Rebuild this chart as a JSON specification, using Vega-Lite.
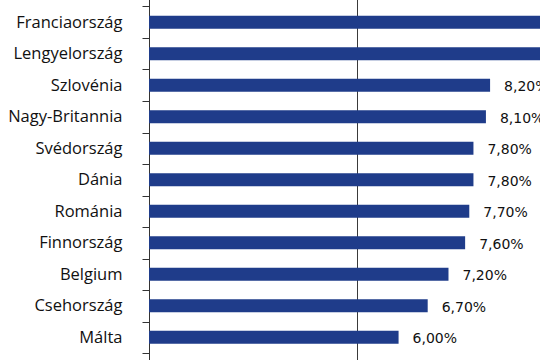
{
  "$schema": "https://vega.github.io/schema/vega-lite/v6.json",
  "width": 391,
  "height": 409.5,
  "autosize": {"type": "none"},
  "padding": {"left": 149, "top": -25, "right": 0, "bottom": -24.5},
  "config": {
    "locale": {"number": {"decimal": ",", "thousands": " ", "grouping": [3], "currency": ["", ""]}},
    "view": {"stroke": null},
    "font": "Open Sans"
  },
  "data": {
    "values": [
      {"orszag": "Németország", "rata": 0.105},
      {"orszag": "Franciaország", "rata": 0.1},
      {"orszag": "Lengyelország", "rata": 0.098},
      {"orszag": "Szlovénia", "rata": 0.082},
      {"orszag": "Nagy-Britannia", "rata": 0.081},
      {"orszag": "Svédország", "rata": 0.078},
      {"orszag": "Dánia", "rata": 0.078},
      {"orszag": "Románia", "rata": 0.077},
      {"orszag": "Finnország", "rata": 0.076},
      {"orszag": "Belgium", "rata": 0.072},
      {"orszag": "Csehország", "rata": 0.067},
      {"orszag": "Málta", "rata": 0.06},
      {"orszag": "Ausztria", "rata": 0.055}
    ]
  },
  "encoding": {
    "y": {
      "field": "orszag",
      "type": "nominal",
      "sort": null,
      "scale": {"paddingInner": 0.59, "paddingOuter": 0.295},
      "axis": {
        "title": null,
        "bandPosition": 0.5,
        "tickOffset": -15.75,
        "labelOffset": 15.75,
        "tickSize": 7,
        "tickColor": "#333333",
        "domainColor": "#333333",
        "labelPadding": 20,
        "labelFont": "Open Sans",
        "labelFontSize": 16.5,
        "labelColor": "#111111",
        "labelLimit": 300
      }
    },
    "x": {
      "field": "rata",
      "type": "quantitative",
      "scale": {"domain": [0, 0.094], "nice": false, "zero": true},
      "axis": {
        "title": null,
        "values": [0.05],
        "grid": true,
        "gridColor": "#3a3a3a",
        "gridOpacity": 1,
        "domain": false,
        "ticks": false,
        "labels": false
      }
    }
  },
  "layer": [
    {"mark": {"type": "bar", "color": "#1f3c8a", "clip": true}},
    {
      "mark": {"type": "text", "align": "left", "baseline": "middle", "dx": 14, "dy": 2, "fontSize": 14, "font": "DejaVu Sans", "color": "#111111", "clip": true},
      "encoding": {"text": {"field": "rata", "type": "quantitative", "format": ".2%"}}
    }
  ]
}
